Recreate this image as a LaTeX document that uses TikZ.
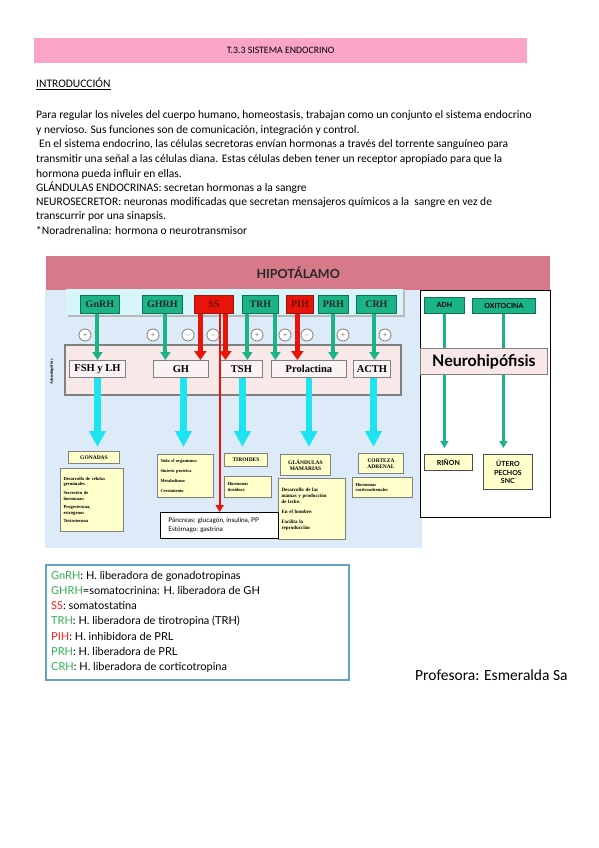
\documentclass[tikz,border=0pt]{standalone}
\usepackage{fontspec}
\setmainfont{Carlito}
\newfontfamily\tnr{Liberation Serif}
\newfontfamily\gill{Lato}
\usetikzlibrary{arrows.meta,calc}
\definecolor{headpink}{RGB}{250,165,200}
\definecolor{hyppink}{RGB}{214,122,138}
\definecolor{diagblue}{RGB}{221,234,248}
\definecolor{topcyan}{RGB}{214,245,250}
\definecolor{lowpink}{RGB}{248,232,232}
\definecolor{hgreen}{RGB}{26,180,135}
\definecolor{hgreendk}{RGB}{20,110,85}
\definecolor{hred}{RGB}{232,20,10}
\definecolor{hreddk}{RGB}{150,20,10}
\definecolor{cyanarr}{RGB}{30,228,242}
\definecolor{ybox}{RGB}{255,255,204}
\definecolor{legblue}{RGB}{100,160,200}
\definecolor{leggreen}{RGB}{50,178,80}
\definecolor{legred}{RGB}{255,30,30}
\begin{document}
\begin{tikzpicture}[x=1pt,y=-1pt,
  gbox/.style={fill=hgreen, draw=hgreendk, line width=0.8pt, inner sep=0, anchor=north west,
    font=\tnr\bfseries\fontsize{10}{10}\selectfont, text=black!85},
  rbox/.style={gbox, fill=hred, draw=hreddk, text=hreddk!70!black},
  lbox/.style={fill=lowpink!50!white, draw=gray, line width=0.9pt, inner sep=0, anchor=north west,
    font=\tnr\bfseries\fontsize{10.5}{10.5}\selectfont},
  ybx/.style={fill=ybox, draw=gray, line width=1pt, inner sep=0, anchor=north west, align=center,
    font=\tnr\bfseries\fontsize{5.5}{6.5}\selectfont},
  ydesc/.style={ybx, align=left, font=\tnr\bfseries\fontsize{4.6}{5.6}\selectfont},
  nbox/.style={fill=hgreen, draw=hgreendk, line width=0.8pt, inner sep=0, anchor=north west,
    font=\gill\bfseries\fontsize{7}{7}\selectfont},
  nybox/.style={fill=ybox, draw=black!70, line width=0.8pt, inner sep=0, anchor=north west, align=center,
    font=\gill\bfseries\fontsize{7}{8.5}\selectfont},
  garrow/.style={draw=hgreen, line width=4pt, -{Triangle[width=10pt,length=8pt]}},
  rarrow/.style={draw=hred, line width=5pt, -{Triangle[width=12pt,length=9pt]}},
  rthin/.style={draw=hred, line width=2pt, -{Triangle[width=8pt,length=7pt]}},
  carrow/.style={draw=cyanarr, line width=6.5pt, -{Triangle[width=16pt,length=16pt]}},
  narrow/.style={draw=hgreen, line width=3.5pt, -{Triangle[width=8pt,length=7pt]}},
  sign/.style={circle, draw=gray, fill=white, line width=0.8pt, minimum size=12pt, inner sep=0,
    font=\fontsize{8}{8}\selectfont, text=gray},
  intro/.style={anchor=base west, inner sep=0, font=\fontsize{11.5}{12}\selectfont},
  leg/.style={anchor=base west, inner sep=0, font=\gill\fontsize{11}{12}\selectfont}
]
\useasboundingbox (0,0) rectangle (599,848);
\fill[white] (0,0) rectangle (599,848);

% ---------- header ----------
\node[fill=headpink, minimum width=493pt, minimum height=25pt, anchor=north west, inner sep=0,
  font=\fontsize{9.8}{10}\selectfont] (head) at (34,38) {T.3.3 SISTEMA ENDOCRINO};
\node[intro] (introtit) at (36,88) {\underline{INTRODUCCIÓN}};
\node[intro] (l1) at (36,118) {Para regular los niveles del cuerpo humano, homeostasis, trabajan como un conjunto el sistema endocrino};
\node[intro] (l2) at (36,133) {y nervioso. Sus funciones son de comunicación, integración y control.};
\node[intro] (l3) at (39,147) {En el sistema endocrino, las células secretoras envían hormonas a través del torrente sanguíneo para};
\node[intro] (l4) at (36,162) {transmitir una señal a las células diana. Estas células deben tener un receptor apropiado para que la};
\node[intro] (l5) at (36,177) {hormona pueda influir en ellas.};
\node[intro] (l6) at (36,191) {GLÁNDULAS ENDOCRINAS: secretan hormonas a la sangre};
\node[intro] (l7) at (36,205) {NEUROSECRETOR: neuronas modificadas que secretan mensajeros químicos a la \ sangre en vez de};
\node[intro] (l8) at (36,219) {transcurrir por una sinapsis.};
\node[intro] (l9) at (36,234) {*Noradrenalina: hormona o neurotransmisor};

% ---------- diagram backgrounds ----------
\fill[diagblue] (45,290) rectangle (422,548);
\node[fill=hyppink, minimum width=504pt, minimum height=34pt, anchor=north west, inner sep=0,
  font=\gill\bfseries\fontsize{12.5}{13}\selectfont, text=black!85] (hyp) at (46,256) {HIPOTÁLAMO};
\fill[gray!55] (68,291) rectangle (405,317);
\fill[topcyan] (66,289) rectangle (403,315);
\draw[fill=lowpink, draw=gray, line width=1.6pt] (65,345) rectangle (401,395);
\node[rotate=90, inner sep=0, font=\tnr\bfseries\fontsize{4}{4}\selectfont] (adeno) at (52,372) {Adenohipófisis};

% ---------- hypothalamic hormones ----------
\node[gbox, minimum width=39pt, minimum height=18pt] (gnrh) at (80,295) {GnRH};
\node[gbox, minimum width=40pt, minimum height=18pt] (ghrh) at (142,295) {GHRH};
\node[rbox, minimum width=39pt, minimum height=18pt] (ss) at (194,295) {SS};
\node[gbox, minimum width=36pt, minimum height=18pt] (trh) at (242,295) {TRH};
\node[rbox, minimum width=27pt, minimum height=18pt] (pih) at (286,295) {PIH};
\node[gbox, minimum width=30pt, minimum height=18pt] (prh) at (318,295) {PRH};
\node[gbox, minimum width=40pt, minimum height=18pt] (crh) at (356,295) {CRH};

% ---------- pituitary hormones ----------
\node[lbox, minimum width=56pt, minimum height=17pt] (fsh) at (69,360) {FSH y LH};
\node[lbox, minimum width=55pt, minimum height=17pt] (gh) at (153,360) {GH};
\node[lbox, minimum width=42pt, minimum height=17pt] (tsh) at (220,360) {TSH};
\node[lbox, minimum width=75pt, minimum height=17pt] (prl) at (271,360) {Prolactina};
\node[lbox, minimum width=37pt, minimum height=17pt] (acth) at (353,360) {ACTH};

% ---------- targets ----------
\node[ybx, minimum width=51pt, minimum height=12pt] (gon) at (68,451) {GONADAS};
\node[ydesc, minimum width=63pt, minimum height=63pt, text width=57pt] (gondesc) at (60,468)
  {Desarrollo de células\\germinales\\[3pt]Secreción de\\hormonas:\\[3pt]Progesterona,\\estrógenos\\[3pt]Testosterona};
\node[ydesc, minimum width=56pt, minimum height=43pt, text width=50pt, font=\tnr\bfseries\fontsize{4.4}{9.8}\selectfont] (ghdesc) at (157,454)
  {Todo el organismo:\\Síntesis proteica\\Metabolismo\\Crecimiento};
\node[ybx, minimum width=43pt, minimum height=13pt] (tir) at (224,453) {TIROIDES};
\node[ydesc, minimum width=47pt, minimum height=21pt, text width=41pt] (tirdesc) at (224,476) {Hormonas\\tiroideas};
\node[ybx, minimum width=50pt, minimum height=21pt] (glan) at (280,454) {GLÁNDULAS\\MAMARIAS};
\node[ydesc, minimum width=67pt, minimum height=61pt, text width=61pt, font=\tnr\bfseries\fontsize{5}{6}\selectfont] (glandesc) at (278,478)
  {Desarrollo de las\\mamas y producción\\de leche.\\[4pt]En el hombre:\\[4pt]Facilita la\\reproducción};
\node[ybx, minimum width=45pt, minimum height=20pt] (cort) at (358,453) {CORTEZA\\ADRENAL};
\node[ydesc, minimum width=60pt, minimum height=20pt, text width=54pt] (cortdesc) at (352,477) {Hormonas\\corticoadrenales};
\node[fill=white, draw=black, line width=1.3pt, minimum width=118pt, minimum height=26pt, anchor=north west,
  inner sep=0, align=left, font=\gill\fontsize{6.5}{9}\selectfont] (panc) at (160,512)
  {Páncreas: glucagón, insulina, PP\\Estómago: gastrina\hspace*{48pt}};

% ---------- arrows hypothalamus -> pituitary ----------
\draw[garrow] (gnrh.south -| fsh.north) -- (fsh.north);
\draw[garrow] ([xshift=3pt]ghrh.south) -- ([xshift=3pt]ghrh.south |- gh.north);
\draw[rarrow] ([xshift=-13.5pt]ss.south) -- ([xshift=-13.5pt]ss.south |- gh.north);
\draw[rarrow] ([xshift=11.5pt]ss.south) -- ([xshift=11.5pt]ss.south |- tsh.north);
\draw[rthin] (ss.south -| panc.north) -- (panc.north);
\draw[garrow] ([xshift=-13pt]trh.south) -- ([xshift=-13pt]trh.south |- tsh.north);
\draw[garrow] ([xshift=15pt]trh.south) -- ([xshift=15pt]trh.south |- prl.north);
\draw[rarrow] ([xshift=-2.5pt]pih.south) -- ([xshift=-2.5pt]pih.south |- prl.north);
\draw[garrow] (prh.south) -- (prh.south |- prl.north);
\draw[garrow] ([xshift=-2pt]crh.south) -- ([xshift=-2pt]crh.south |- acth.north);

% ---------- signs ----------
\foreach \x/\s [count=\i] in {85/+,153/+,188/$-$,213/$-$,257/+,285/+,307/$-$,343/+,385/+}
  \node[sign] (sg\i) at (\x,335) {\s};

% ---------- arrows pituitary -> targets ----------
\draw[carrow, shorten >=4pt] (fsh.south) -- (fsh.south |- gon.north);
\draw[carrow, shorten >=7pt] ([xshift=2.5pt]gh.south) -- ([xshift=2.5pt]gh.south |- ghdesc.north);
\draw[carrow, shorten >=6pt] ([xshift=1pt]tsh.south) -- ([xshift=1pt]tsh.south |- tir.north);
\draw[carrow, shorten >=7pt] (prl.south) -- (prl.south |- glan.north);
\draw[carrow, shorten >=6pt] ([xshift=1.5pt]acth.south) -- ([xshift=1.5pt]acth.south |- cort.north);

% ---------- neurohypophysis ----------
\node[fill=white, draw=black, line width=0.9pt, minimum width=130pt, minimum height=227pt, anchor=north west, inner sep=0] (npanel) at (420,290) {};
\node[nbox, minimum width=40pt, minimum height=16pt] (adh) at (424,297) {ADH};
\node[nbox, minimum width=63pt, minimum height=15pt] (oxi) at (472,298) {OXITOCINA};
\node[nybox, minimum width=48pt, minimum height=16pt] (rinon) at (424,454) {RIÑON};
\node[nybox, minimum width=49pt, minimum height=35pt] (utero) at (483,454) {ÚTERO\\PECHOS\\SNC};
\draw[narrow, shorten >=6pt] (adh.south) -- (adh.south |- rinon.north);
\draw[narrow, shorten >=6pt] ([xshift=-0.5pt]oxi.south) -- ([xshift=-0.5pt]oxi.south |- utero.north);
\node[fill=lowpink, draw=gray, line width=0.9pt, minimum width=127pt, minimum height=26pt, anchor=north west, inner sep=0,
  font=\gill\bfseries\fontsize{16}{16}\selectfont] (neuro) at (420,348) {Neurohipófisis};

% ---------- legend ----------
\node[draw=legblue, line width=1.5pt, minimum width=303pt, minimum height=115pt, anchor=north west, inner sep=0] (legbox) at (45,564) {};
\node[leg] (lg1) at (51,579) {\textcolor{leggreen}{GnRH}: H. liberadora de gonadotropinas};
\node[leg] (lg2) at (51,594) {\textcolor{leggreen}{GHRH}=somatocrinina: H. liberadora de GH};
\node[leg] (lg3) at (51,609) {\textcolor{legred}{SS}: somatostatina};
\node[leg] (lg4) at (51,624) {\textcolor{leggreen}{TRH}: H. liberadora de tirotropina (TRH)};
\node[leg] (lg5) at (51,640) {\textcolor{legred}{PIH}: H. inhibidora de PRL};
\node[leg] (lg6) at (51,655) {\textcolor{leggreen}{PRH}: H. liberadora de PRL};
\node[leg] (lg7) at (51,670) {\textcolor{leggreen}{CRH}: H. liberadora de corticotropina};

\node[anchor=base west, inner sep=0, font=\fontsize{15.5}{17}\selectfont] (prof) at (415,680) {Profesora: Esmeralda Sa};
\end{tikzpicture}
\end{document}
